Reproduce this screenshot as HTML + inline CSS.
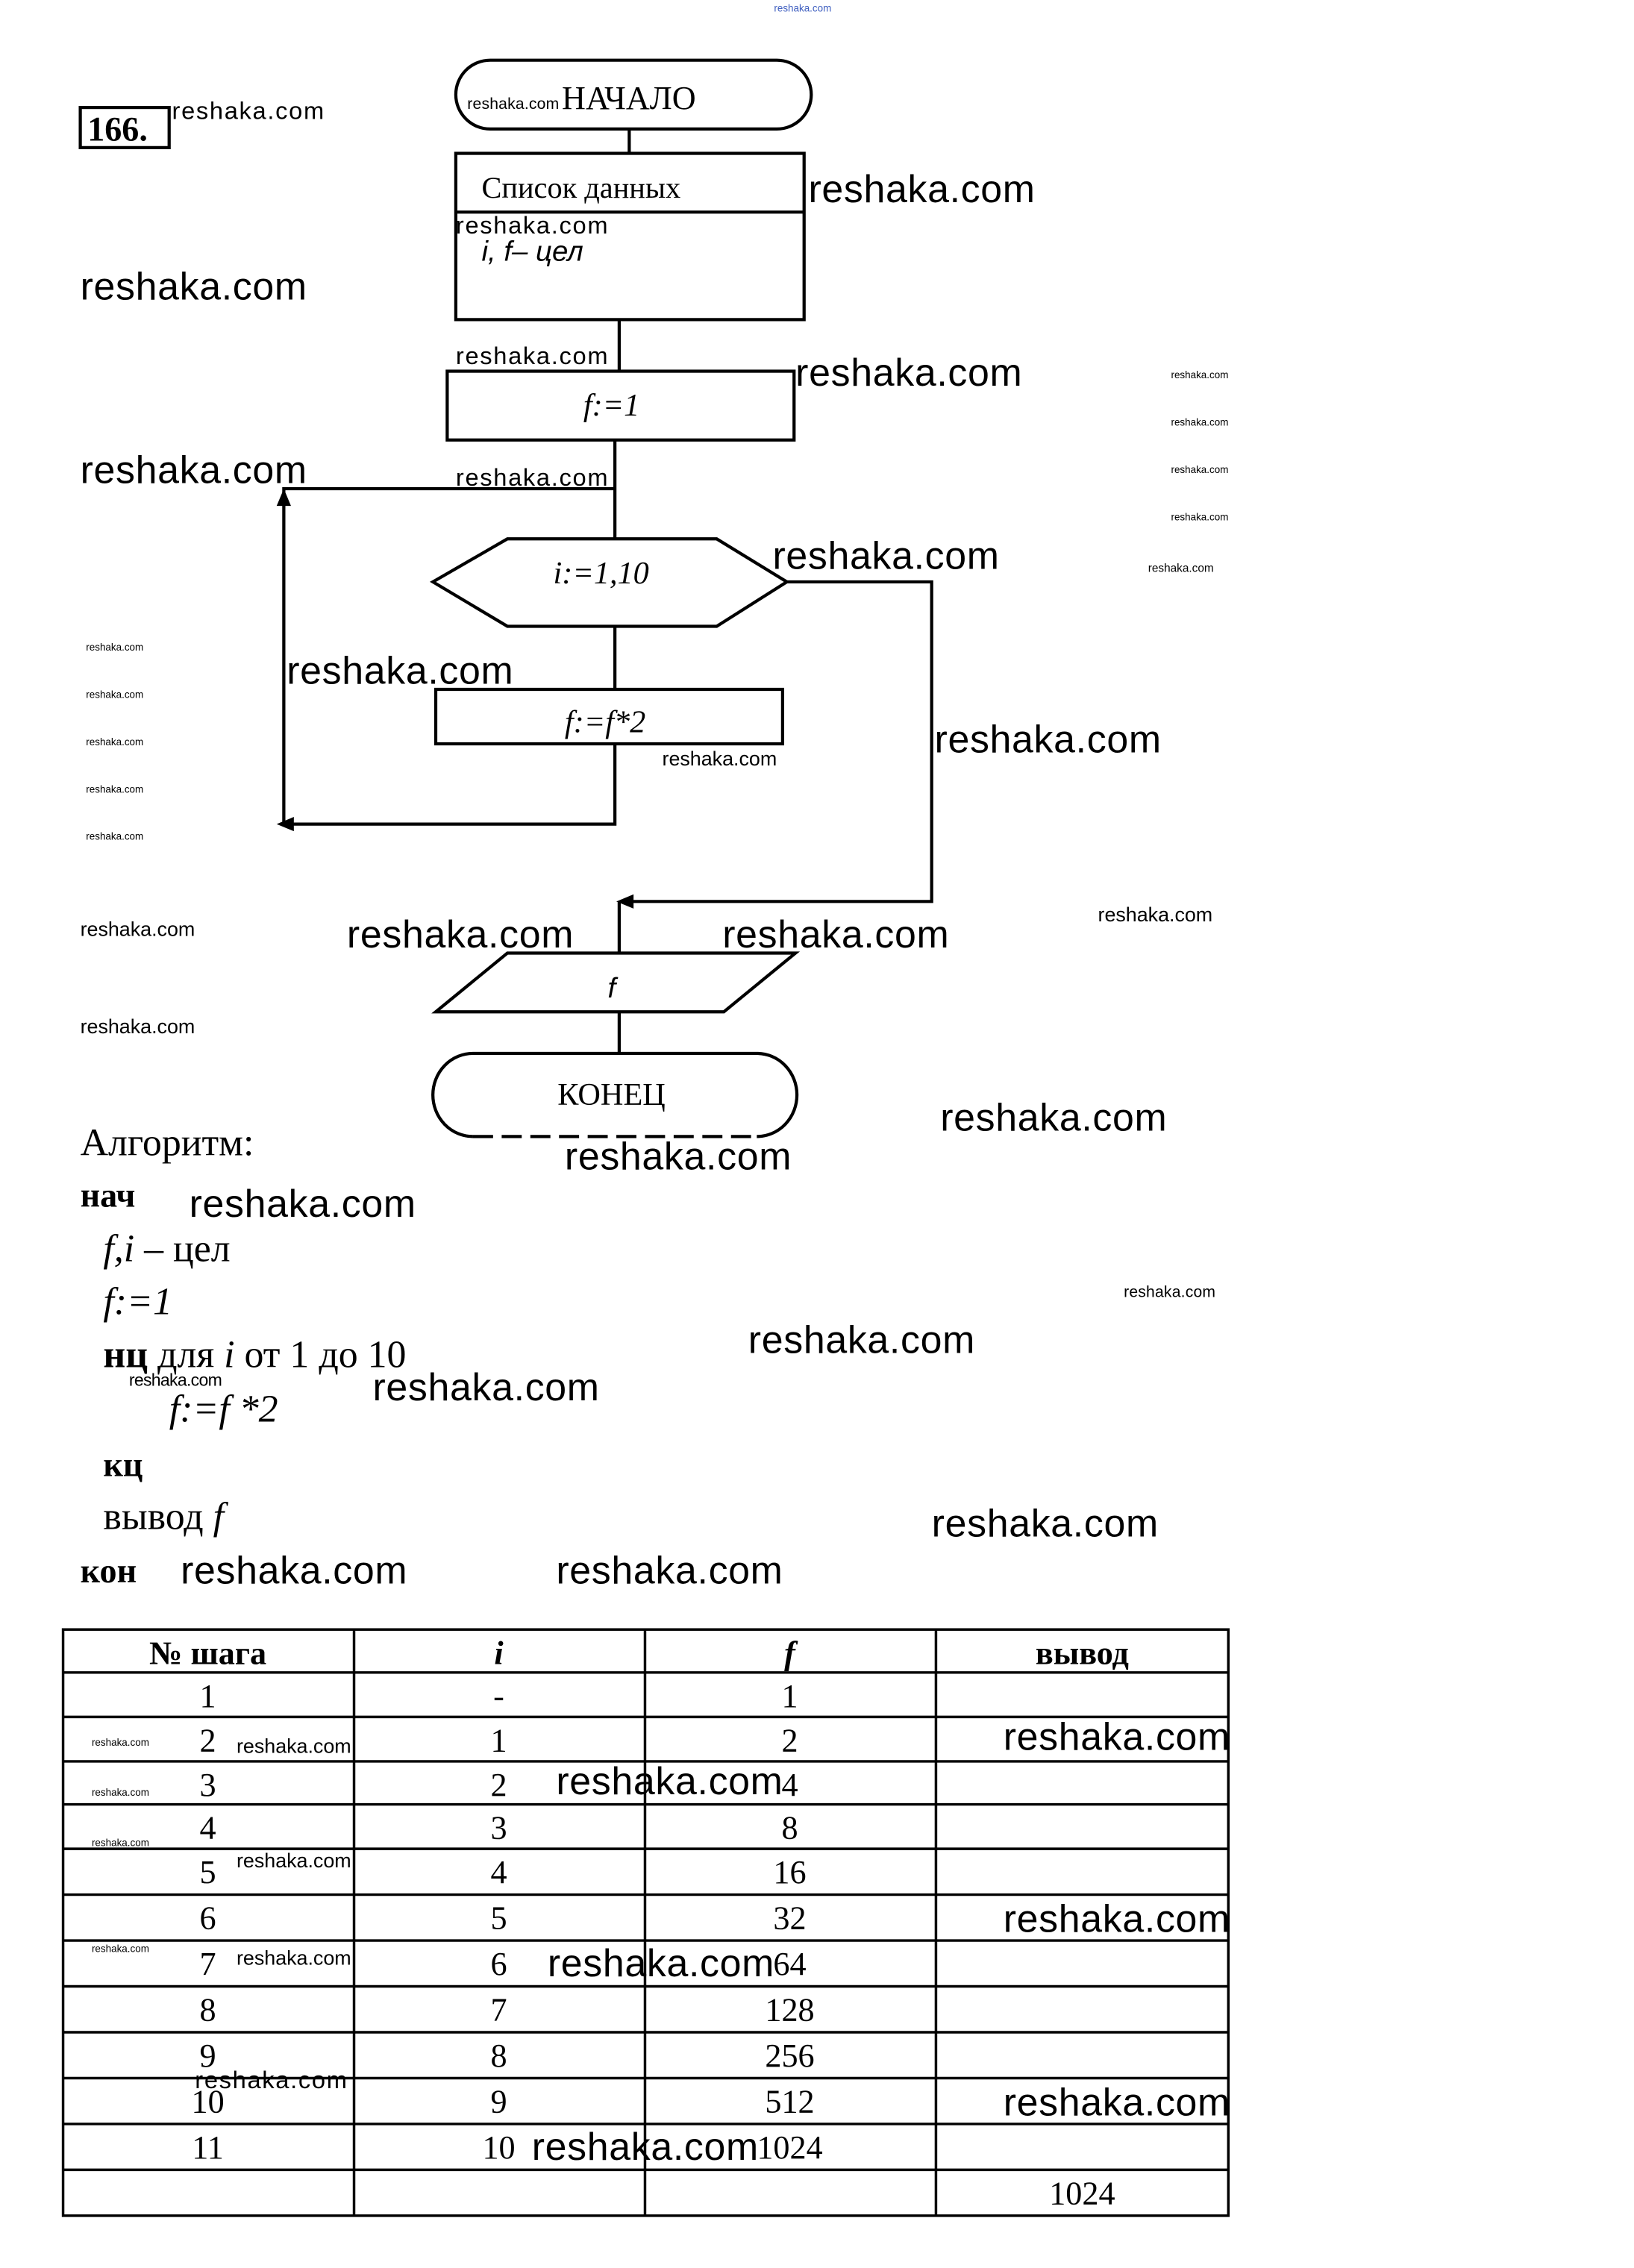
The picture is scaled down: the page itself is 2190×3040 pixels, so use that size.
<!DOCTYPE html>
<html><head><meta charset="utf-8"><style>
html,body{margin:0;padding:0;background:#fff;}
svg{display:block;}
.w{font-family:"Liberation Sans",sans-serif;fill:#000;}
.s{font-family:"Liberation Serif",serif;fill:#000;}
</style></head><body>
<svg width="2190" height="3040" viewBox="0 0 1140 1582.5" xmlns="http://www.w3.org/2000/svg">
<rect width="1140" height="1582.5" fill="#fff"/>
<g fill="none" stroke="#000" stroke-width="2.2">
<!-- 166 box -->
<rect x="56" y="75" width="62" height="28"/>
<!-- start terminal -->
<rect x="318" y="42" width="248" height="48" rx="24"/>
<line x1="439" y1="90" x2="439" y2="107"/>
<!-- data box -->
<rect x="318" y="107" width="243" height="116"/>
<line x1="318" y1="148" x2="561" y2="148"/>
<line x1="432" y1="223" x2="432" y2="258"/>
<!-- f:=1 -->
<rect x="312" y="259" width="242" height="48"/>
<line x1="429" y1="307" x2="429" y2="376"/>
<!-- loop back -->
<polyline points="429,341 198,341 198,575"/>
<polyline points="429,520 429,575 200,575"/>
<!-- hexagon -->
<polygon points="302,406 354,376 500,376 549,406 500,437 354,437"/>
<line x1="429" y1="437" x2="429" y2="481"/>
<rect x="304" y="481" width="242" height="38"/>
<!-- exit -->
<polyline points="549,406 650,406 650,629 438,629"/>
<line x1="432" y1="629" x2="432" y2="665"/>
<polygon points="304,706 354,665 555,665 505,706"/>
<line x1="432" y1="706" x2="432" y2="735"/>
<path d="M330,793 A28,29 0 0 1 330,735 L528,735 A28,29 0 0 1 528,793"/>
<line x1="330" y1="793" x2="528" y2="793" stroke-dasharray="14,6"/>
</g>
<g fill="#000">
<polygon points="198,341 193,353 203,353"/>
<polygon points="193,575 205,570 205,580"/>
<polygon points="430,629 442,624 442,634"/>
</g>
<text class="s" x="61" y="98" font-size="24" font-weight="bold">166.</text>
<text class="s" x="392" y="76" font-size="23">НАЧАЛО</text>
<text class="s" x="336" y="138" font-size="21">Список данных</text>
<text class="w" x="336" y="182" font-size="20" font-style="italic">i, f– цел</text>
<text class="s" x="407" y="290" font-size="22" font-style="italic">f:=1</text>
<text class="s" x="386" y="407" font-size="22" font-style="italic">i:=1,10</text>
<text class="s" x="394" y="511" font-size="22" font-style="italic">f:=f*2</text>
<text class="w" x="424" y="696" font-size="20" font-style="italic">f</text>
<text class="s" x="389" y="771" font-size="22">КОНЕЦ</text>

<!-- algorithm -->
<g class="s" font-size="27">
<text x="56" y="806">Алгоритм:</text>
<text x="56" y="842" font-weight="bold" font-size="24">нач</text>
<text x="72" y="880" font-style="italic">f,i <tspan font-style="normal">– цел</tspan></text>
<text x="72" y="917" font-style="italic">f:=1</text>
<text x="72" y="954"><tspan font-weight="bold">нц</tspan> для <tspan font-style="italic">i</tspan> от 1 до 10</text>
<text x="118" y="992" font-style="italic">f:=f *2</text>
<text x="72" y="1030" font-weight="bold" font-size="24">кц</text>
<text x="72" y="1067">вывод <tspan font-style="italic">f</tspan></text>
<text x="56" y="1104" font-weight="bold" font-size="24">кон</text>
</g>

<!-- table -->
<g fill="none" stroke="#000" stroke-width="1.8">
<rect x="44" y="1137" width="813" height="409"/>
<line x1="247" y1="1137" x2="247" y2="1546"/>
<line x1="450" y1="1137" x2="450" y2="1546"/>
<line x1="653" y1="1137" x2="653" y2="1546"/>
<line x1="44" y1="1167" x2="857" y2="1167"/>
<line x1="44" y1="1198" x2="857" y2="1198"/>
<line x1="44" y1="1229" x2="857" y2="1229"/>
<line x1="44" y1="1259" x2="857" y2="1259"/>
<line x1="44" y1="1290" x2="857" y2="1290"/>
<line x1="44" y1="1322" x2="857" y2="1322"/>
<line x1="44" y1="1354" x2="857" y2="1354"/>
<line x1="44" y1="1386" x2="857" y2="1386"/>
<line x1="44" y1="1418" x2="857" y2="1418"/>
<line x1="44" y1="1450" x2="857" y2="1450"/>
<line x1="44" y1="1482" x2="857" y2="1482"/>
<line x1="44" y1="1514" x2="857" y2="1514"/>
</g>
<g class="s" font-size="23" text-anchor="middle">
<text x="145" y="1161" font-weight="bold">№ шага</text>
<text x="348" y="1161" font-weight="bold" font-style="italic">i</text>
<text x="551" y="1161" font-weight="bold" font-style="italic">f</text>
<text x="755" y="1161" font-weight="bold">вывод</text>
<text x="145" y="1191">1</text><text x="348" y="1191">-</text><text x="551" y="1191">1</text>
<text x="145" y="1222">2</text><text x="348" y="1222">1</text><text x="551" y="1222">2</text>
<text x="145" y="1253">3</text><text x="348" y="1253">2</text><text x="551" y="1253">4</text>
<text x="145" y="1283">4</text><text x="348" y="1283">3</text><text x="551" y="1283">8</text>
<text x="145" y="1314">5</text><text x="348" y="1314">4</text><text x="551" y="1314">16</text>
<text x="145" y="1346">6</text><text x="348" y="1346">5</text><text x="551" y="1346">32</text>
<text x="145" y="1378">7</text><text x="348" y="1378">6</text><text x="551" y="1378">64</text>
<text x="145" y="1410">8</text><text x="348" y="1410">7</text><text x="551" y="1410">128</text>
<text x="145" y="1442">9</text><text x="348" y="1442">8</text><text x="551" y="1442">256</text>
<text x="145" y="1474">10</text><text x="348" y="1474">9</text><text x="551" y="1474">512</text>
<text x="145" y="1506">11</text><text x="348" y="1506">10</text><text x="551" y="1506">1024</text>
<text x="755" y="1538">1024</text>
</g>

<!-- watermarks large -->
<g class="w" font-size="27">
<text x="564" y="141" textLength="158">reshaka.com</text>
<text x="56" y="209" textLength="158">reshaka.com</text>
<text x="555" y="269" textLength="158">reshaka.com</text>
<text x="56" y="337" textLength="158">reshaka.com</text>
<text x="539" y="397" textLength="158">reshaka.com</text>
<text x="200" y="477" textLength="158">reshaka.com</text>
<text x="652" y="525" textLength="158">reshaka.com</text>
<text x="242" y="661" textLength="158">reshaka.com</text>
<text x="504" y="661" textLength="158">reshaka.com</text>
<text x="656" y="789" textLength="158">reshaka.com</text>
<text x="394" y="816" textLength="158">reshaka.com</text>
<text x="132" y="849" textLength="158">reshaka.com</text>
<text x="522" y="944" textLength="158">reshaka.com</text>
<text x="260" y="977" textLength="158">reshaka.com</text>
<text x="650" y="1072" textLength="158">reshaka.com</text>
<text x="126" y="1105" textLength="158">reshaka.com</text>
<text x="388" y="1105" textLength="158">reshaka.com</text>
<text x="700" y="1221" textLength="158">reshaka.com</text>
<text x="388" y="1252" textLength="158">reshaka.com</text>
<text x="700" y="1348" textLength="158">reshaka.com</text>
<text x="382" y="1379" textLength="158">reshaka.com</text>
<text x="700" y="1476" textLength="158">reshaka.com</text>
<text x="371" y="1507" textLength="158">reshaka.com</text>
</g>
<g class="w" font-size="17">
<text x="120" y="83" textLength="106">reshaka.com</text>
<text x="318" y="163" textLength="106">reshaka.com</text>
<text x="318" y="254" textLength="106">reshaka.com</text>
<text x="318" y="339" textLength="106">reshaka.com</text>
<text x="56" y="653" textLength="80" font-size="14">reshaka.com</text>
<text x="56" y="721" textLength="80" font-size="14">reshaka.com</text>
<text x="766" y="643" textLength="80" font-size="14">reshaka.com</text>
<text x="462" y="534" textLength="80" font-size="14">reshaka.com</text>
<text x="784" y="905" textLength="64" font-size="11">reshaka.com</text>
<text x="90" y="967" textLength="65" font-size="12">reshaka.com</text>
<text x="165" y="1223" textLength="80" font-size="14">reshaka.com</text>
<text x="165" y="1303" textLength="80" font-size="14">reshaka.com</text>
<text x="165" y="1371" textLength="80" font-size="14">reshaka.com</text>
<text x="136" y="1457" textLength="106">reshaka.com</text>
<text x="326" y="76" textLength="64" font-size="11">reshaka.com</text>
</g>
<g class="w" font-size="7">
<text x="540" y="8" fill="#4060c0">reshaka.com</text>
<text x="817" y="264">reshaka.com</text>
<text x="817" y="297">reshaka.com</text>
<text x="817" y="330">reshaka.com</text>
<text x="817" y="363">reshaka.com</text>
<text x="801" y="399" font-size="8">reshaka.com</text>
<text x="60" y="454">reshaka.com</text>
<text x="60" y="487">reshaka.com</text>
<text x="60" y="520">reshaka.com</text>
<text x="60" y="553">reshaka.com</text>
<text x="60" y="586">reshaka.com</text>
<text x="64" y="1218">reshaka.com</text>
<text x="64" y="1253">reshaka.com</text>
<text x="64" y="1288">reshaka.com</text>
<text x="64" y="1362">reshaka.com</text>
</g>
</svg>
</body></html>
